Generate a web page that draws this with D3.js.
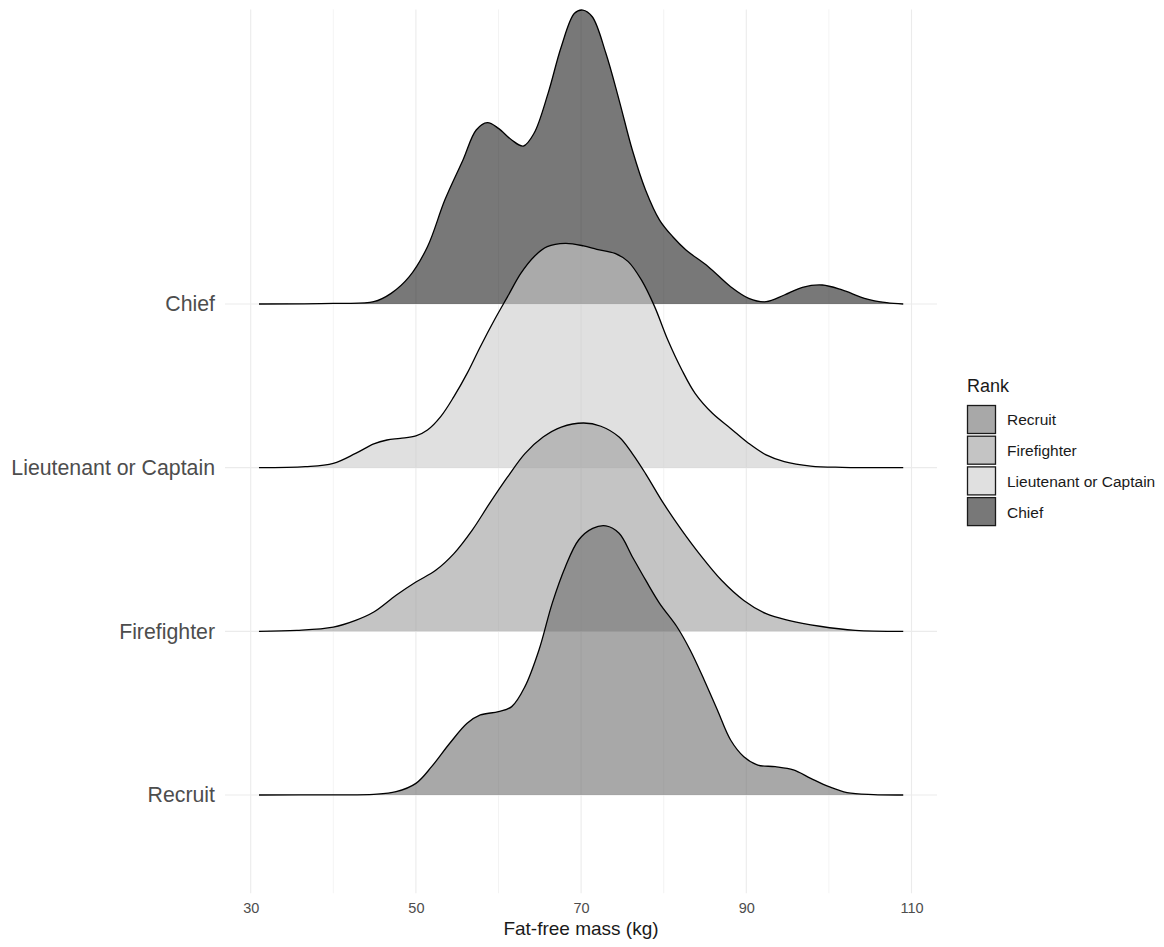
<!DOCTYPE html>
<html>
<head>
<meta charset="utf-8">
<script src="https://cdn.jsdelivr.net/npm/d3@7"></script>
<style>
  html, body { margin: 0; padding: 0; background: #ffffff; }
  svg { display: block; font-family: "Liberation Sans", Arial, Helvetica, sans-serif; }
</style>
</head>
<body>
<svg id="chart" width="1164" height="947"></svg>
<script>
// Ranks, bottom row first
const ranks = ["Recruit", "Firefighter", "Lieutenant or Captain", "Chief"];

// Density ridges: [fat-free mass (kg), scaled height in row units]
const recruitDensity = [
  [31, 0], [40, 0.001], [44.9, 0.004], [47.6, 0.020], [50.0, 0.071], [51.9, 0.173],
  [54.1, 0.316], [56.2, 0.438], [57.8, 0.489], [60.0, 0.509], [61.6, 0.540],
  [63.2, 0.662], [64.9, 0.886], [66.5, 1.171], [68.1, 1.395], [69.7, 1.558],
  [71.4, 1.629], [73.0, 1.644], [74.6, 1.599], [76.2, 1.456], [77.8, 1.314],
  [79.5, 1.171], [81.6, 1.028], [83.2, 0.886], [84.9, 0.703], [86.5, 0.519],
  [88.1, 0.336], [89.7, 0.234], [91.4, 0.183], [93.5, 0.173], [95.7, 0.153],
  [97.8, 0.102], [100.0, 0.051], [102.2, 0.014], [105.4, 0.002], [109, 0]
];
const firefighterDensity = [
  [31, 0], [35.6, 0.006], [40.0, 0.026], [42.7, 0.067], [44.9, 0.118], [47.6, 0.220],
  [50.0, 0.301], [52.4, 0.373], [54.6, 0.475], [56.8, 0.617], [58.9, 0.780],
  [61.1, 0.943], [63.2, 1.086], [65.4, 1.187], [67.6, 1.248], [70.3, 1.273],
  [72.4, 1.253], [74.6, 1.187], [76.2, 1.086], [77.8, 0.964], [80.0, 0.780],
  [82.2, 0.617], [84.3, 0.475], [87.0, 0.312], [89.7, 0.189], [92.4, 0.108],
  [95.1, 0.067], [98.9, 0.031], [103.2, 0.006], [109, 0]
];
const lieutenantDensity = [
  [31, 0], [36.6, 0.006], [40.0, 0.026], [42.7, 0.087], [44.9, 0.145], [46.5, 0.169],
  [48.1, 0.179], [50.0, 0.194], [51.4, 0.230], [53.0, 0.312], [54.6, 0.434],
  [56.2, 0.576], [57.8, 0.739], [59.5, 0.902], [61.1, 1.045], [62.7, 1.187],
  [64.3, 1.289], [65.9, 1.350], [68.1, 1.370], [70.3, 1.355], [71.9, 1.334],
  [74.1, 1.309], [75.7, 1.259], [77.3, 1.147], [78.9, 0.984], [80.5, 0.780],
  [82.2, 0.597], [83.8, 0.454], [85.9, 0.332], [88.1, 0.240], [90.3, 0.148],
  [92.4, 0.078], [94.6, 0.037], [97.8, 0.010], [101.6, 0.002], [109, 0]
];
const chiefDensity = [
  [31, 0], [40, 0.004], [44.9, 0.014], [47.0, 0.065], [49.2, 0.167], [51.4, 0.350],
  [53.5, 0.635], [55.7, 0.880], [57.3, 1.063], [58.65, 1.108], [60.0, 1.073],
  [61.6, 1.002], [63.0, 0.965], [64.3, 1.043], [66.0, 1.287], [67.6, 1.572],
  [69.2, 1.776], [70.2, 1.796], [71.35, 1.755], [73.0, 1.532], [74.6, 1.246],
  [76.2, 0.941], [77.8, 0.697], [79.5, 0.513], [81.1, 0.411], [82.7, 0.330],
  [85.4, 0.228], [88.1, 0.106], [90.3, 0.035], [92.4, 0.014], [94.6, 0.055],
  [96.8, 0.102], [99.2, 0.116], [101.6, 0.086], [104.3, 0.035], [107.0, 0.008], [109, 0]
];
const densities = [recruitDensity, firefighterDensity, lieutenantDensity, chiefDensity];

const fills = ["#6e6e6e", "#9d9d9d", "#cbcbcb", "#1e1e1e"];
const fillOpacity = 0.6;

const xTicks = [30, 50, 70, 90, 110];
const xMinorTicks = [40, 60, 80, 100];

// Layout
const panel = { left: 225, right: 937, top: 9.4, bottom: 893.2 };

const svg = d3.select("#chart");

const x = d3.scaleLinear().domain([30, 110]).range([250.7, 911.5]);
const y = d3.scaleLinear().domain([-0.6, 4.8]).range([panel.bottom, panel.top]);

const curve = d3.curveCatmullRom.alpha(0.5);

// Grid
const grid = svg.append("g");
grid.selectAll("line.minor").data(xMinorTicks).join("line")
  .attr("x1", d => x(d)).attr("x2", d => x(d))
  .attr("y1", panel.top).attr("y2", panel.bottom)
  .attr("stroke", "#ebebeb").attr("stroke-width", 0.6);
grid.selectAll("line.major").data(xTicks).join("line")
  .attr("x1", d => x(d)).attr("x2", d => x(d))
  .attr("y1", panel.top).attr("y2", panel.bottom)
  .attr("stroke", "#ebebeb").attr("stroke-width", 1.1);
grid.selectAll("line.row").data(ranks.map((r, i) => i)).join("line")
  .attr("x1", panel.left).attr("x2", panel.right)
  .attr("y1", d => y(d)).attr("y2", d => y(d))
  .attr("stroke", "#ebebeb").attr("stroke-width", 1.1);

// Ridges, drawn top row first so lower rows overlay
const ridges = svg.append("g");
for (let i = ranks.length - 1; i >= 0; i--) {
  const area = d3.area()
    .x(d => x(d[0]))
    .y0(y(i))
    .y1(d => y(i + d[1]))
    .curve(curve);
  const line = d3.line()
    .x(d => x(d[0]))
    .y(d => y(i + d[1]))
    .curve(curve);
  ridges.append("path")
    .datum(densities[i])
    .attr("d", area)
    .attr("fill", fills[i])
    .attr("fill-opacity", fillOpacity);
  ridges.append("path")
    .datum(densities[i])
    .attr("d", line)
    .attr("fill", "none")
    .attr("stroke", "#000")
    .attr("stroke-width", 1.3)
    .attr("stroke-linejoin", "round");
}

// X axis
const xAxis = svg.append("g")
  .attr("transform", `translate(0,${panel.bottom})`)
  .call(d3.axisBottom(x).tickValues(xTicks).tickSize(0).tickPadding(9.5));
xAxis.select(".domain").remove();
xAxis.selectAll("text")
  .attr("fill", "#4d4d4d")
  .style("font-size", "14.5px")
  .style("font-family", "'Liberation Sans', Arial, sans-serif");

// Y axis
const yAxis = svg.append("g")
  .attr("transform", `translate(${panel.left},0)`)
  .call(d3.axisLeft(y).tickValues([0, 1, 2, 3]).tickFormat(i => ranks[i]).tickSize(0).tickPadding(10));
yAxis.select(".domain").remove();
yAxis.selectAll("text")
  .attr("fill", "#4d4d4d")
  .style("font-size", "21.3px")
  .style("font-family", "'Liberation Sans', Arial, sans-serif");

// Axis title
svg.append("text")
  .attr("x", (panel.left + panel.right) / 2)
  .attr("y", 935)
  .attr("text-anchor", "middle")
  .attr("fill", "#1a1a1a")
  .style("font-size", "19px")
  .text("Fat-free mass (kg)");

// Legend
const legend = svg.append("g").attr("transform", "translate(967,0)");
legend.append("text")
  .attr("x", 0).attr("y", 392)
  .attr("fill", "#1a1a1a")
  .style("font-size", "18px")
  .text("Rank");
const keyTop = 405, keyStep = 30.7, keySize = 28;
const items = legend.selectAll("g.item").data(ranks).join("g")
  .attr("transform", (d, i) => `translate(0,${keyTop + i * keyStep})`);
items.append("rect")
  .attr("x", 0.5).attr("y", 0.5)
  .attr("width", keySize).attr("height", keySize)
  .attr("fill", "#fff");
items.append("rect")
  .attr("x", 0.5).attr("y", 0.5)
  .attr("width", keySize).attr("height", keySize)
  .attr("fill", (d, i) => fills[i])
  .attr("fill-opacity", fillOpacity)
  .attr("stroke", "#1a1a1a")
  .attr("stroke-width", 1.3);
items.append("text")
  .attr("x", 40).attr("y", keySize / 2 + 1)
  .attr("dy", "0.35em")
  .attr("fill", "#1a1a1a")
  .style("font-size", "15.5px")
  .text(d => d);
</script>
</body>
</html>
